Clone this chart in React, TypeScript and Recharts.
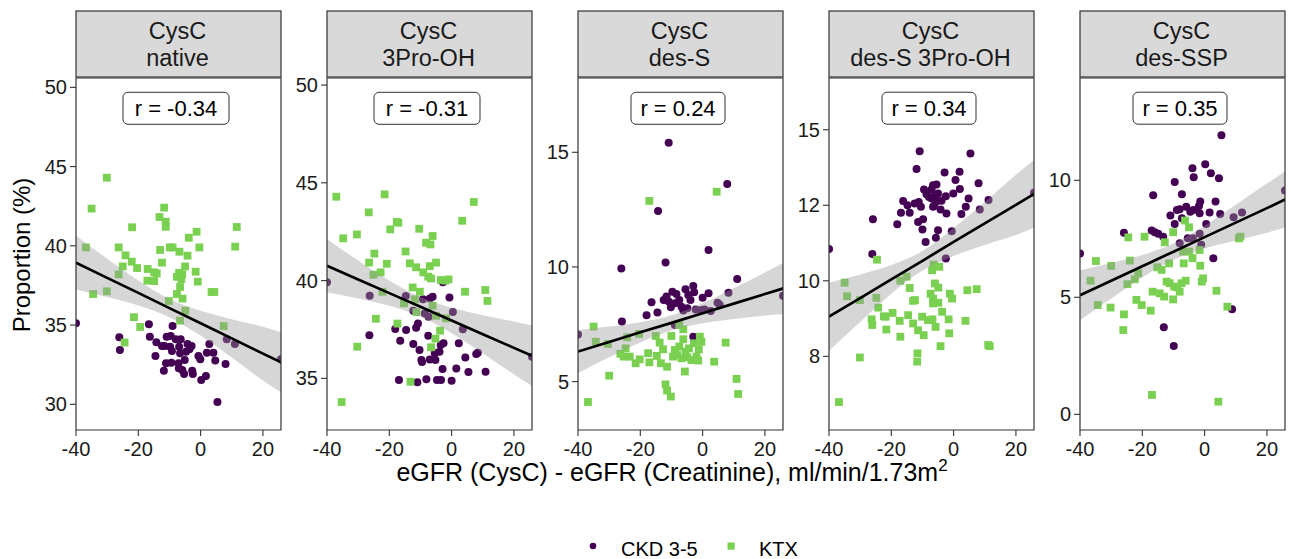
import React from 'react';
import { ComposedChart, Scatter, Line, Area, XAxis, YAxis, ReferenceArea, ReferenceDot } from 'recharts';

const PURPLE = '#440154';
const GREEN = '#7AD151';
const FONT = '"Liberation Sans", Arial, Helvetica, sans-serif';

const stripTitles: string[][] = [
  ['CysC', 'native'],
  ['CysC', '3Pro-OH'],
  ['CysC', 'des-S'],
  ['CysC', 'des-S 3Pro-OH'],
  ['CysC', 'des-SSP'],
];
const rLabels = ['r = -0.34', 'r = -0.31', 'r = 0.24', 'r = 0.34', 'r = 0.35'];
const rLabelY = [48.68, 48.81, 16.92, 14.57, 13.08];
const xTicks = [-40, -20, 0, 20];
const xDomain: [number, number] = [-40, 25.8];
const yDomains: [number, number][] = [
  [28.38, 50.59],
  [32.36, 50.36],
  [2.89, 18.24],
  [6.05, 15.37],
  [-0.67, 14.37],
];
const yTicks: number[][] = [
  [30, 35, 40, 45, 50],
  [35, 40, 45, 50],
  [5, 10, 15],
  [8, 10, 12, 14],
  [0, 5, 10],
];
// tick texts as printed in the reference
const yTickLabels: string[][] = [
  ['30', '35', '40', '45', '50'],
  ['35', '40', '45', '50'],
  ['5', '10', '15'],
  ['8', '10', '12', '15'],
  ['0', '5', '10'],
];

type P = [number, number];

const ckdNative: P[] = [[-40,35.11],[-26.1,34.23],[-25.9,33.43],[-16.6,35.05],[-16.3,34.27],[-14.2,33.91],[-14.5,33.05],[-11.8,32.12],[-11.1,32.59],[-11.6,33.68],[-10.9,34.27],[-9.6,34.31],[-9.0,34.94],[-12.4,33.68],[-9.8,33.64],[-9.2,33.37],[-9.4,32.63],[-8.0,34.1],[-6.9,33.64],[-6.4,34.1],[-6.6,33.22],[-7.1,32.59],[-7.0,32.27],[-5.9,32.17],[-5.3,31.91],[-5.1,32.8],[-4.7,33.32],[-4.2,33.81],[-3.6,33.47],[-2.9,33.68],[-2.7,32.12],[-2.5,31.91],[-0.7,33.05],[-0.1,32.84],[0.2,31.54],[1.7,31.79],[2.0,33.26],[2.8,33.81],[4.1,33.26],[4.7,32.76],[5.4,30.15],[8.0,32.54],[8.4,34.1],[11.0,33.81],[25.8,32.84]];
const ktxNative: P[] = [[-36.8,39.9],[-35.0,42.35],[-34.5,36.96],[-30.1,44.3],[-30.1,37.13],[-26.3,38.2],[-26.3,39.9],[-25.0,38.7],[-24.1,39.4],[-22.1,39.0],[-22.0,41.17],[-24.4,33.9],[-21.4,35.5],[-19.4,34.88],[-20.4,38.6],[-17.0,38.54],[-17.1,37.8],[-14.9,37.78],[-14.9,38.33],[-14.1,38.26],[-13.0,39.74],[-13.2,41.82],[-11.7,42.41],[-11.2,41.52],[-11.2,41.2],[-12.4,38.94],[-10.2,36.52],[-9.9,39.9],[-9.0,39.9],[-7.6,38.05],[-6.8,39.63],[-6.9,38.3],[-5.9,38.2],[-6.2,37.9],[-7.6,36.96],[-6.6,37.4],[-5.8,36.67],[-5.0,38.7],[-4.2,39.38],[-3.8,40.51],[-1.3,40.89],[-0.4,39.9],[-1.6,38.37],[-0.9,37.74],[-4.9,35.91],[-6.6,35.28],[3.5,37.09],[4.4,37.09],[7.4,34.94],[11.6,41.19],[11.1,39.95]];

const ckdProOH: P[] = [[-40,39.91],[-26.3,39.23],[-26.4,37.2],[-16.9,34.92],[-18.1,37.52],[-16.5,36.93],[-14.7,39.21],[-14.6,37.47],[-11.4,37.59],[-10.8,37.81],[-12.3,36.76],[-10.3,36.45],[-9.7,35.94],[-9.5,35.84],[-11.0,34.8],[-9.2,39.04],[-8.6,38.32],[-7.4,38.15],[-7.0,39.09],[-6.1,39.18],[-7.5,37.18],[-7.0,35.97],[-8.1,34.95],[-5.4,36.28],[-5.2,35.94],[-3.9,36.36],[-3.5,36.71],[-2.6,36.79],[-4.7,34.92],[-3.4,34.92],[-2.9,35.48],[-2.8,39.91],[-0.7,39.14],[0.4,38.39],[0.0,34.88],[1.5,35.51],[2.3,36.79],[3.6,37.51],[4.4,36.07],[5.4,35.32],[7.9,36.24],[8.4,36.31],[10.9,35.34],[25.8,36.11],[-12.3,38.46]];
const ktxProOH: P[] = [[-37.0,44.29],[-34.8,42.16],[-35.3,33.79],[-30.4,42.36],[-30.3,36.62],[-26.6,43.49],[-26.5,40.92],[-24.8,41.38],[-25.1,40.3],[-22.8,40.42],[-20.8,40.86],[-22.2,39.43],[-24.3,38.05],[-21.5,44.41],[-19.7,42.62],[-17.6,43.0],[-17.1,42.96],[-17.4,37.8],[-15.3,38.84],[-14.8,41.49],[-13.4,40.88],[-11.4,40.68],[-12.5,39.65],[-10.2,39.43],[-11.8,39.04],[-11.3,38.39],[-10.4,42.65],[-9.1,40.42],[-8.2,41.94],[-6.8,41.85],[-6.1,42.28],[-7.5,40.2],[-7.0,40.74],[-5.0,40.92],[-6.6,40.11],[-6.1,38.72],[-5.0,38.2],[-3.7,37.44],[-5.2,37.03],[-6.6,36.59],[-3.5,40.03],[-2.0,40.0],[-1.0,40.06],[-1.8,38.07],[-13.2,34.83],[3.4,43.06],[4.3,39.43],[7.1,44.02],[10.8,39.52],[11.5,38.96]];

const ckdDesS: P[] = [[-40,7.06],[-10.9,15.42],[7.9,13.62],[-14.3,12.44],[-26.1,9.93],[-11.9,10.19],[1.9,10.74],[11.1,9.48],[-25.9,7.62],[-18.0,7.89],[-16.4,8.46],[-14.5,8.01],[-12.5,8.56],[-11.6,8.71],[-10.9,8.49],[-10.2,8.24],[-9.7,8.92],[-8.4,8.82],[-8.9,8.42],[-7.5,8.56],[-6.8,8.27],[-5.5,9.03],[-4.6,8.78],[-3.0,9.17],[-2.7,8.9],[-3.9,8.56],[-6.2,8.1],[-4.9,8.2],[-2.2,8.15],[-0.4,8.12],[0.6,8.15],[0.0,8.66],[1.9,8.85],[2.6,8.08],[4.8,8.44],[5.5,8.34],[8.3,8.88],[-8.9,7.47],[-3.0,6.96],[25.8,8.74]];
const ktxDesS: P[] = [[-36.8,4.11],[-35.0,7.4],[-34.3,6.74],[-30.0,5.26],[-30.4,6.64],[-26.4,6.21],[-24.7,6.45],[-24.2,6.93],[-25.3,6.09],[-23.4,6.09],[-21.5,5.8],[-20.4,7.08],[-20.2,5.97],[-17.5,6.24],[-17.1,5.84],[-17.1,12.88],[-15.0,6.99],[-14.7,6.12],[-13.8,6.7],[-13.4,5.8],[-12.7,6.41],[-11.4,5.65],[-11.9,4.88],[-11.4,4.61],[-10.2,4.35],[-10.0,6.99],[-9.5,6.09],[-8.9,6.38],[-8.2,6.16],[-7.5,6.53],[-6.8,6.02],[-6.2,7.28],[-6.2,6.85],[-5.7,5.44],[-5.5,6.31],[-4.9,6.06],[-4.4,6.45],[-3.6,5.94],[-2.8,6.67],[-2.0,6.09],[-1.4,5.92],[-0.9,6.96],[-0.4,6.74],[-1.2,6.41],[3.7,5.87],[4.5,13.28],[7.4,6.7],[10.9,5.12],[11.4,4.46],[-7.5,7.47]];

const ckdDesSPro: P[] = [[-40,10.84],[-10.9,13.43],[5.4,13.37],[-11.9,12.96],[-2.9,12.87],[1.9,12.89],[0.6,12.67],[8.0,12.58],[-25.9,11.63],[-26.1,10.71],[-18.1,11.5],[-16.2,12.11],[-16.9,11.8],[-14.8,12.0],[-14.1,11.8],[-12.5,12.05],[-11.2,12.09],[-10.5,11.96],[-11.4,11.56],[-9.8,11.63],[-10.0,11.36],[-9.0,11.03],[-9.5,12.42],[-8.7,12.29],[-7.9,12.22],[-7.1,12.42],[-6.6,12.53],[-5.5,12.55],[-6.0,12.24],[-7.1,12.18],[-5.7,12.09],[-5.0,12.31],[-6.6,11.96],[-6.3,11.98],[-3.9,12.12],[-4.2,11.89],[-2.5,12.24],[-2.3,11.78],[-5.0,11.34],[-5.7,11.14],[-0.6,11.31],[-0.1,12.31],[2.0,12.43],[2.5,11.77],[3.9,11.96],[4.8,12.18],[8.4,11.89],[11.2,12.14],[-2.5,10.59],[25.8,12.33]];
const ktxDesSPro: P[] = [[-36.8,6.79],[-35.0,9.95],[-34.2,9.59],[-30.1,7.97],[-30.1,9.49],[-24.8,9.55],[-24.6,10.56],[-24.2,9.29],[-26.3,8.98],[-26.1,8.83],[-22.4,9.06],[-21.6,8.71],[-21.8,9.05],[-19.6,9.15],[-17.3,8.94],[-17.1,8.52],[-17.1,10.0],[-15.1,10.11],[-14.1,9.81],[-13.0,9.47],[-12.4,9.49],[-14.6,9.09],[-13.0,8.87],[-11.4,8.69],[-11.6,8.08],[-11.7,7.86],[-9.6,8.56],[-10.1,9.05],[-8.2,8.96],[-7.4,9.66],[-6.8,8.98],[-6.6,9.4],[-6.6,9.53],[-6.9,10.28],[-6.4,10.43],[-4.6,10.37],[-6.0,9.93],[-4.9,9.82],[-4.9,9.42],[-5.8,8.78],[-4.2,8.27],[-3.7,9.18],[-1.6,8.98],[-1.4,8.61],[-1.2,9.66],[-0.5,9.53],[3.8,8.94],[4.4,9.75],[7.4,9.78],[11.1,8.3],[11.6,8.27]];

const ckdDesSSP: P[] = [[-40,6.87],[5.4,11.92],[0.2,10.68],[-3.9,10.51],[-3.5,10.13],[2.0,10.3],[4.6,10.09],[-9.6,9.93],[-16.5,9.36],[-7.3,9.4],[-25.9,7.76],[-17.0,7.85],[-16.0,7.78],[-14.9,7.71],[-13.3,7.59],[-11.0,8.49],[-9.6,8.13],[-8.9,8.73],[-8.0,8.76],[-7.3,8.38],[-5.9,8.87],[-4.6,8.66],[-3.6,8.73],[-1.8,8.9],[-1.4,9.09],[-1.6,8.59],[0.5,8.13],[1.6,8.62],[3.5,9.09],[5.0,8.56],[9.3,8.42],[12.0,8.62],[-8.0,7.31],[-5.4,7.52],[-3.8,7.52],[-1.6,7.71],[-1.1,7.24],[2.8,6.67],[8.8,4.49],[-13.1,3.72],[-9.9,2.92],[25.8,9.56]];
const ktxDesSSP: P[] = [[-16.9,0.83],[4.4,0.54],[-34.9,6.55],[-36.6,5.71],[-34.3,4.67],[-30.2,4.56],[-30.0,6.34],[-25.9,4.27],[-26.1,3.6],[-24.5,7.56],[-24.0,6.57],[-24.8,5.56],[-22.4,5.77],[-21.3,6.03],[-21.9,4.89],[-20.2,4.67],[-19.3,7.59],[-17.3,4.43],[-16.7,5.24],[-15.2,6.28],[-14.4,5.17],[-13.8,6.17],[-13.0,5.03],[-12.8,7.35],[-12.2,5.67],[-11.4,6.45],[-11.2,5.6],[-10.1,4.91],[-10.1,7.78],[-9.8,5.46],[-8.8,5.43],[-8.0,5.24],[-7.4,5.6],[-6.7,6.45],[-6.1,5.71],[-6.3,8.28],[-5.0,7.99],[-5.0,6.95],[-6.9,6.95],[-3.9,6.67],[-1.6,7.02],[-1.4,6.35],[-0.5,5.81],[-0.9,5.67],[3.8,5.28],[7.3,4.6],[11.0,7.52],[11.5,7.59]];

const ckdSets = [ckdNative, ckdProOH, ckdDesS, ckdDesSPro, ckdDesSSP];
const ktxSets = [ktxNative, ktxProOH, ktxDesS, ktxDesSPro, ktxDesSSP];

const fitX = [-40, -30, -20, -10, 0, 10, 20, 26];
const fitNative = [38.94, 37.98, 37.03, 36.07, 35.11, 34.16, 33.2, 32.63];
const loNative = [37.25, 36.77, 36.24, 35.49, 34.32, 32.95, 31.51, 30.73];
const hiNative = [40.63, 39.19, 37.82, 36.65, 35.9, 35.37, 34.89, 34.53];
const fitProOH = [40.76, 40.06, 39.36, 38.66, 37.96, 37.26, 36.56, 36.14];
const loProOH = [39.41, 39.09, 38.71, 38.16, 37.31, 36.29, 35.21, 34.59];
const hiProOH = [42.11, 41.03, 40.01, 39.16, 38.61, 38.23, 37.91, 37.69];
const fitDesS = [6.31, 6.73, 7.15, 7.56, 7.98, 8.4, 8.82, 9.07];
const loDesS = [5.37, 6.06, 6.71, 7.23, 7.54, 7.73, 7.88, 7.95];
const hiDesS = [7.25, 7.4, 7.59, 7.89, 8.42, 9.07, 9.76, 10.19];
const fitDesSPro = [9.05, 9.54, 10.04, 10.53, 11.03, 11.52, 12.01, 12.31];
const loDesSPro = [8.15, 8.91, 9.66, 10.27, 10.66, 10.95, 11.21, 11.41];
const hiDesSPro = [9.95, 10.17, 10.42, 10.79, 11.4, 12.09, 12.81, 13.21];
const fitDesSSP = [5.09, 5.71, 6.33, 6.95, 7.57, 8.19, 8.81, 9.19];
const loDesSSP = [4.02, 4.95, 5.85, 6.6, 7.09, 7.43, 7.76, 7.99];
const hiDesSSP = [6.16, 6.47, 6.81, 7.3, 8.05, 8.95, 9.86, 10.39];

const fits = [fitNative, fitProOH, fitDesS, fitDesSPro, fitDesSSP];
const los = [loNative, loProOH, loDesS, loDesSPro, loDesSSP];
const his = [hiNative, hiProOH, hiDesS, hiDesSPro, hiDesSSP];

const PLOT_LEFT0 = 76;
const PANEL_STEP = 251;
const PLOT_W = 205;
const PLOT_TOP = 78;
const PLOT_H = 352;
const Y_AXIS_W = 66;
const TOP_PAD = 14;

const DotShape = (p: any) => <circle cx={p.cx} cy={p.cy} r={4} fill={PURPLE} />;
const SquareShape = (p: any) => <rect x={p.cx - 3.9} y={p.cy - 3.9} width={7.8} height={7.8} fill={GREEN} />;

function Panel({ i }: { i: number }) {
  const left = PLOT_LEFT0 + i * PANEL_STEP;
  const data = fitX.map((x, k) => ({ x, fit: fits[i][k], band: [los[i][k], his[i][k]] }));
  const ckd = ckdSets[i].map(([x, y]) => ({ x, y }));
  const ktx = ktxSets[i].map(([x, y]) => ({ x, y }));
  const label = rLabels[i];
  const boxW = 12 * label.length - 2;
  const tickStyle = { fill: '#1a1a1a', fontSize: 20, fontFamily: FONT };
  const yFmt = (v: number) => {
    const k = yTicks[i].indexOf(v);
    return k >= 0 ? yTickLabels[i][k] : String(v);
  };
  return (
    <div style={{ position: 'absolute', left: left - Y_AXIS_W, top: PLOT_TOP - TOP_PAD }}>
      <ComposedChart
        width={Y_AXIS_W + PLOT_W + 2}
        height={PLOT_H + TOP_PAD + 50}
        data={data}
        margin={{ top: TOP_PAD, right: 2, bottom: 0, left: 0 }}
      >
        <XAxis
          type="number"
          dataKey="x"
          domain={xDomain}
          allowDataOverflow
          ticks={xTicks}
          interval={0}
          height={50}
          axisLine={false}
          tickLine={{ stroke: '#333', strokeWidth: 1.1 }}
          tickSize={6}
          tickMargin={6}
          tick={tickStyle}
        />
        <YAxis
          type="number"
          domain={yDomains[i]}
          allowDataOverflow
          ticks={yTicks[i]}
          interval={0}
          width={Y_AXIS_W}
          axisLine={false}
          tickLine={{ stroke: '#333', strokeWidth: 1.1 }}
          tickSize={6}
          tickMargin={3}
          tick={tickStyle}
          tickFormatter={yFmt}
        />
        <Scatter data={ckd} dataKey="y" shape={DotShape} isAnimationActive={false} zIndex={50} />
        <Scatter data={ktx} dataKey="y" shape={SquareShape} isAnimationActive={false} zIndex={51} />
        <Area
          dataKey="band"
          type="monotone"
          fill="#999999"
          fillOpacity={0.4}
          stroke="none"
          isAnimationActive={false}
          zIndex={100}
        />
        <Line
          dataKey="fit"
          type="linear"
          stroke="#000000"
          strokeWidth={2.7}
          dot={false}
          activeDot={false}
          isAnimationActive={false}
          zIndex={400}
        />
        <ReferenceArea
          x1={xDomain[0]}
          x2={xDomain[1]}
          y1={yDomains[i][0]}
          y2={yDomains[i][1]}
          fill="none"
          fillOpacity={0}
          stroke="#333333"
          strokeWidth={1.2}
          zIndex={900}
        />
        <ReferenceDot
          x={-7.9}
          y={rLabelY[i]}
          r={0}
          zIndex={1000}
          shape={(p: any) => (
            <g>
              <rect x={p.cx - boxW / 2} y={p.cy - 16} width={boxW} height={32} rx={5} ry={5} fill="#ffffff" stroke="#333333" strokeWidth={1} />
              <text x={p.cx} y={p.cy + 7.5} textAnchor="middle" fontSize={22} fontFamily={FONT} fill="#000">{label}</text>
            </g>
          )}
        />
      </ComposedChart>
    </div>
  );
}

export default function App() {
  const panels = [0, 1, 2, 3, 4];
  return (
    <div style={{ position: 'absolute', left: 0, top: 0, width: 1291, height: 559, background: '#ffffff', fontFamily: FONT }}>
      <svg width={1291} height={559} style={{ position: 'absolute', left: 0, top: 0 }}>
        {panels.map((i) => {
          const left = PLOT_LEFT0 + i * PANEL_STEP;
          const cx = left + PLOT_W / 2 - 1;
          return (
            <g key={i}>
              <rect x={left} y={11} width={PLOT_W} height={66} fill="#D9D9D9" stroke="#333333" strokeWidth={1.2} />
              <text x={cx} y={38.5} textAnchor="middle" fontSize={23.5} fontFamily={FONT} fill="#1a1a1a">{stripTitles[i][0]}</text>
              <text x={cx} y={66} textAnchor="middle" fontSize={23.5} fontFamily={FONT} fill="#1a1a1a">{stripTitles[i][1]}</text>
            </g>
          );
        })}
        <text transform="translate(30,255) rotate(-90)" textAnchor="middle" fontSize={24} fontFamily={FONT} fill="#000">Proportion (%)</text>
        <text x={672} y={481} textAnchor="middle" fontSize={25} fontFamily={FONT} fill="#000">
          eGFR (CysC) - eGFR (Creatinine), ml/min/1.73m<tspan dy={-10} fontSize={17}>2</tspan>
        </text>
        <circle cx={593} cy={546} r={3.3} fill={PURPLE} />
        <text x={621} y={556} fontSize={20} fontFamily={FONT} fill="#000">CKD 3-5</text>
        <rect x={727.5} y={542.5} width={7.2} height={7.2} fill={GREEN} />
        <text x={759} y={556} fontSize={20} fontFamily={FONT} fill="#000">KTX</text>
      </svg>
      {panels.map((i) => (
        <Panel key={i} i={i} />
      ))}
    </div>
  );
}
